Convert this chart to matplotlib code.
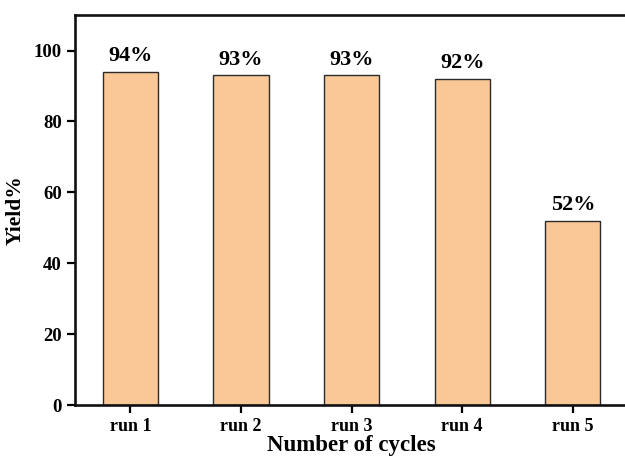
import matplotlib
matplotlib.use("Agg")
import matplotlib.pyplot as plt

runs = ["run 1", "run 2", "run 3", "run 4", "run 5"]
yields = [94, 93, 93, 92, 52]
yticks = [0, 20, 40, 60, 80, 100]

plt.rcParams["font.family"] = ["Liberation Serif", "DejaVu Serif"]
plt.rcParams["font.weight"] = "bold"

fig = plt.figure(figsize=(6.25, 4.59), dpi=100)
ax = fig.add_axes([0.12, 0.1176, 0.885, 0.8494])

x = range(len(runs))
bars = ax.bar(x, yields, width=0.5, color="#FAC797", edgecolor="#2b2b2b", linewidth=1.0)

for xi, v in zip(x, yields):
    ax.annotate(f"{v}%", (xi, v), xytext=(0, 4), textcoords="offset points",
                ha="center", va="bottom", fontsize=16, fontweight="bold")

ax.set_xlim(-0.5, 4.5)
ax.set_ylim(0, 110)
ax.set_xticks(list(x))
ax.set_xticklabels(runs, fontsize=13, fontweight="bold")
ax.set_yticks(yticks)
ax.set_yticklabels([str(t) for t in yticks], fontsize=13.5, fontweight="bold")

for s in ax.spines.values():
    s.set_linewidth(1.9)
    s.set_color("#111111")
ax.tick_params(axis="both", direction="out", length=5.5, width=1.6)
ax.tick_params(axis="x", pad=4)
ax.tick_params(axis="y", pad=4)

ax.set_xlabel("Number of cycles", fontsize=16.5, fontweight="bold", labelpad=0)
ax.set_ylabel("Yield%", fontsize=15.5, fontweight="bold", labelpad=6)

fig.savefig("out.png", dpi=100)
